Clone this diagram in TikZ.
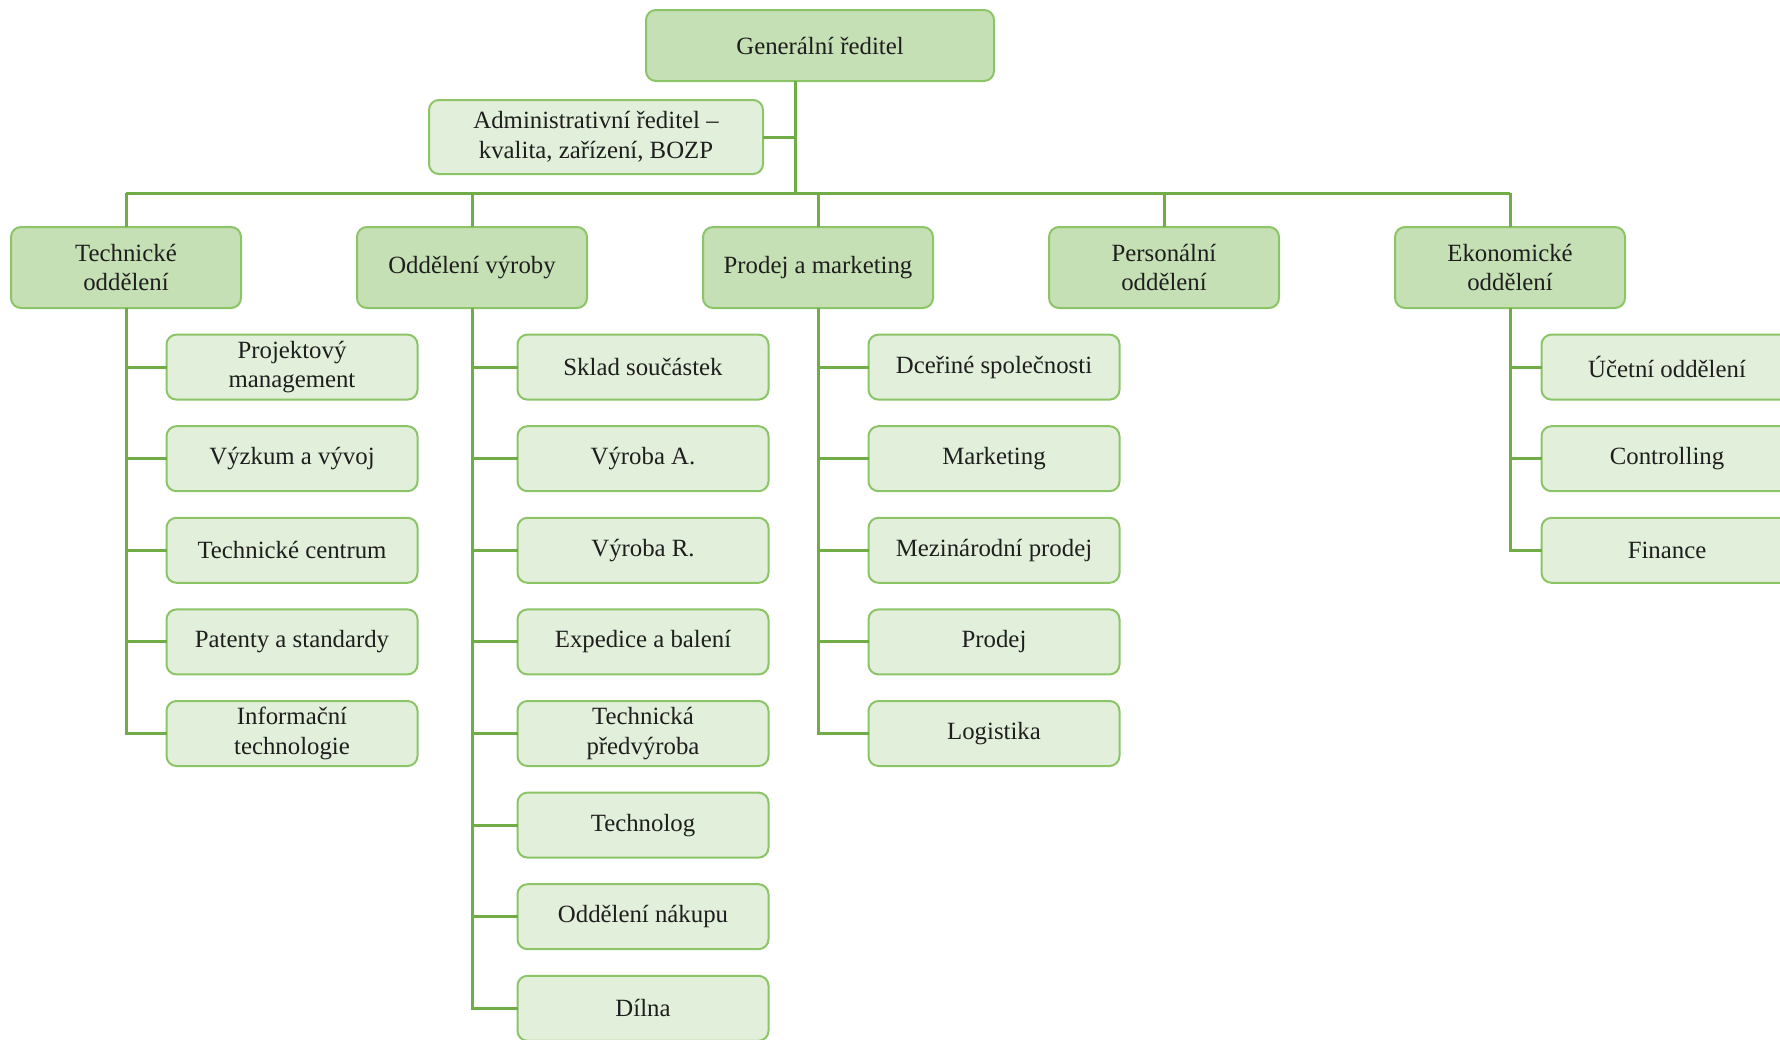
\documentclass[tikz,border=0pt]{standalone}
\usepackage{fontspec}
\setmainfont{Liberation Serif}
\usepackage{tikz}
\usetikzlibrary{positioning}
\definecolor{HeadFill}{RGB}{197,224,180}
\definecolor{SubFill}{RGB}{226,239,218}
\definecolor{BoxRule}{RGB}{140,196,104}
\definecolor{LinkGreen}{RGB}{112,173,71}
\definecolor{TextDark}{RGB}{30,30,30}

\begin{document}
\begin{tikzpicture}[
  x=0.5pt, y=-0.5pt,
  node distance=13.3pt,
  every node/.style={font=\fontsize{12.4}{14.8}\selectfont, text=TextDark,
                     inner sep=0pt, outer sep=0pt},
  dept/.style={draw=BoxRule, line width=1pt, fill=HeadFill, rounded corners=5pt,
               minimum width=115pt, minimum height=40.5pt, align=center},
  unit/.style={draw=BoxRule, line width=1pt, fill=SubFill, rounded corners=5pt,
               minimum width=125.5pt, minimum height=32.5pt, align=center},
  link/.style={draw=LinkGreen, line width=1.5pt}
]
\useasboundingbox (0,0) rectangle (1780,1039);
\clip (0,0) rectangle (1780,1039);

% vedeni
\node[dept, minimum width=174pt, minimum height=35.5pt] (gr) at (820,45.5) {Generální ředitel};
\node[unit, minimum width=167pt, minimum height=37pt, fill=SubFill] (ad) at (596,137)
  {Administrativní ředitel –\\kvalita, zařízení, BOZP};
\coordinate (bus) at (795,193);

% useky
\node[dept] (td) at (126,267.5) {Technické\\oddělení};
\node[dept, right=58pt of td] (vy) {Oddělení výroby};
\node[dept, right=58pt of vy] (pm) {Prodej a marketing};
\node[dept, right=58pt of pm] (po) {Personální\\oddělení};
\node[dept, right=58pt of po] (ek) {Ekonomické\\oddělení};

% technicke oddeleni
\node[unit, below=of td, xshift=83pt] (td1) {Projektový\\management};
\node[unit, below=of td1] (td2) {Výzkum a vývoj};
\node[unit, below=of td2] (td3) {Technické centrum};
\node[unit, below=of td3] (td4) {Patenty a standardy};
\node[unit, below=of td4] (td5) {Informační\\technologie};

% oddeleni vyroby
\node[unit, below=of vy, xshift=85.5pt] (vy1) {Sklad součástek};
\node[unit, below=of vy1] (vy2) {Výroba A.};
\node[unit, below=of vy2] (vy3) {Výroba R.};
\node[unit, below=of vy3] (vy4) {Expedice a balení};
\node[unit, below=of vy4] (vy5) {Technická\\předvýroba};
\node[unit, below=of vy5] (vy6) {Technolog};
\node[unit, below=of vy6] (vy7) {Oddělení nákupu};
\node[unit, below=of vy7] (vy8) {Dílna};

% prodej a marketing
\node[unit, below=of pm, xshift=88pt] (pm1) {Dceřiné společnosti};
\node[unit, below=of pm1] (pm2) {Marketing};
\node[unit, below=of pm2] (pm3) {Mezinárodní prodej};
\node[unit, below=of pm3] (pm4) {Prodej};
\node[unit, below=of pm4] (pm5) {Logistika};

% ekonomicke oddeleni
\node[unit, below=of ek, xshift=78.5pt] (ek1) {Účetní oddělení};
\node[unit, below=of ek1] (ek2) {Controlling};
\node[unit, below=of ek2] (ek3) {Finance};

% spojnice
\draw[link] (gr.south -| bus) -- (bus);
\draw[link] (ad.east) -- (ad.east -| bus);
\draw[link] (bus -| td) -- (bus -| ek);
\draw[link] (bus -| td) -- (td.north);
\draw[link] (bus -| vy) -- (vy.north);
\draw[link] (bus -| pm) -- (pm.north);
\draw[link] (bus -| po) -- (po.north);
\draw[link] (bus -| ek) -- (ek.north);

\draw[link] (td.south) |- (td1.west);
\draw[link] (td.south) |- (td2.west);
\draw[link] (td.south) |- (td3.west);
\draw[link] (td.south) |- (td4.west);
\draw[link] (td.south) |- (td5.west);

\draw[link] (vy.south) |- (vy1.west);
\draw[link] (vy.south) |- (vy2.west);
\draw[link] (vy.south) |- (vy3.west);
\draw[link] (vy.south) |- (vy4.west);
\draw[link] (vy.south) |- (vy5.west);
\draw[link] (vy.south) |- (vy6.west);
\draw[link] (vy.south) |- (vy7.west);
\draw[link] (vy.south) |- (vy8.west);

\draw[link] (pm.south) |- (pm1.west);
\draw[link] (pm.south) |- (pm2.west);
\draw[link] (pm.south) |- (pm3.west);
\draw[link] (pm.south) |- (pm4.west);
\draw[link] (pm.south) |- (pm5.west);

\draw[link] (ek.south) |- (ek1.west);
\draw[link] (ek.south) |- (ek2.west);
\draw[link] (ek.south) |- (ek3.west);
\end{tikzpicture}
\end{document}
